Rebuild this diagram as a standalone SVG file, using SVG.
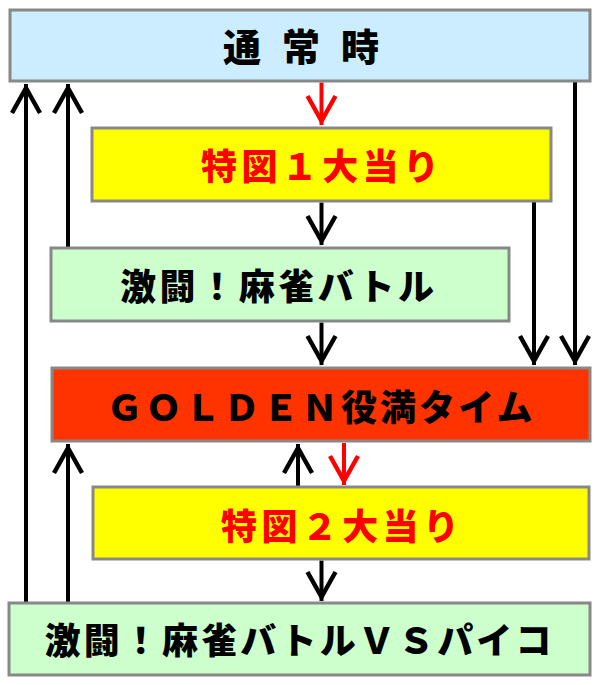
<svg xmlns="http://www.w3.org/2000/svg" width="600" height="685" viewBox="0 0 600 685">
<style>
.box{stroke:#888888;stroke-width:3}
.t{font-family:"Noto Sans CJK JP","Noto Sans CJK SC",sans-serif;font-weight:900;font-size:36px;text-anchor:middle}
.blk{fill:#000000}
.red{fill:#FF0000}
.ln{fill:none;stroke-width:4}
.k{stroke:#000000}
.r{stroke:#FF0000}
</style>
<defs>
<marker id="ak" markerUnits="userSpaceOnUse" orient="auto" markerWidth="40" markerHeight="40" refX="0" refY="0" viewBox="-32 -20 40 40" overflow="visible">
<path d="M-29,-14 L-4,0 L-29,14" fill="none" stroke="#000000" stroke-width="4.5"/>
</marker>
<marker id="ar" markerUnits="userSpaceOnUse" orient="auto" markerWidth="40" markerHeight="40" refX="0" refY="0" viewBox="-32 -20 40 40" overflow="visible">
<path d="M-29,-14 L-4,0 L-29,14" fill="none" stroke="#FF0000" stroke-width="4.5"/>
</marker>
</defs>
<g id="connectors">
<line class="ln r" x1="321.5" y1="82.5" x2="321.5" y2="125" marker-end="url(#ar)"/>
<line class="ln k" x1="321.5" y1="202.5" x2="321.5" y2="245" marker-end="url(#ak)"/>
<line class="ln k" x1="321.5" y1="322.5" x2="321.5" y2="365" marker-end="url(#ak)"/>
<line class="ln k" x1="534" y1="202" x2="534" y2="365" marker-end="url(#ak)"/>
<line class="ln k" x1="575" y1="82" x2="575" y2="365" marker-end="url(#ak)"/>
<line class="ln k" x1="68" y1="247" x2="68" y2="84" marker-end="url(#ak)"/>
<line class="ln k" x1="26" y1="602" x2="26" y2="84" marker-end="url(#ak)"/>
<line class="ln k" x1="68" y1="602" x2="68" y2="444" marker-end="url(#ak)"/>
<line class="ln k" x1="298" y1="486" x2="298" y2="444" marker-end="url(#ak)"/>
<line class="ln r" x1="344" y1="443" x2="344" y2="485" marker-end="url(#ar)"/>
<line class="ln k" x1="321.5" y1="560.5" x2="321.5" y2="601" marker-end="url(#ak)"/>
</g>
<g id="normal">
<rect class="box" x="10" y="10" width="580" height="71" fill="#CCECFF"/>
<text class="t blk" x="242 271.5 301 330.5 360" y="61" style="font-size:38px">通 常 時</text>
</g>
<g id="toku1">
<rect class="box" x="92" y="128" width="459" height="73" fill="#FFFF00"/>
<text class="t red" x="320" y="180" textLength="238" lengthAdjust="spacing">特図１大当り</text>
</g>
<g id="battle">
<rect class="box" x="51" y="248" width="458" height="73" fill="#CCFFCC"/>
<text class="t blk" x="277" y="300" textLength="314" lengthAdjust="spacing">激闘！麻雀バトル</text>
</g>
<g id="golden">
<rect class="box" x="52" y="368" width="538" height="73" fill="#FF3300"/>
<text class="t blk" x="319.5" y="420.5" textLength="426" lengthAdjust="spacing">ＧＯＬＤＥＮ役満タイム</text>
</g>
<g id="toku2">
<rect class="box" x="93" y="487" width="496" height="72" fill="#FFFF00"/>
<text class="t red" x="340" y="540" textLength="238" lengthAdjust="spacing">特図２大当り</text>
</g>
<g id="battlevs">
<rect class="box" x="9" y="603" width="581" height="72" fill="#CCFFCC"/>
<text class="t blk" x="298" y="654" textLength="507" lengthAdjust="spacing">激闘！麻雀バトルＶＳパイコ</text>
</g>
</svg>
